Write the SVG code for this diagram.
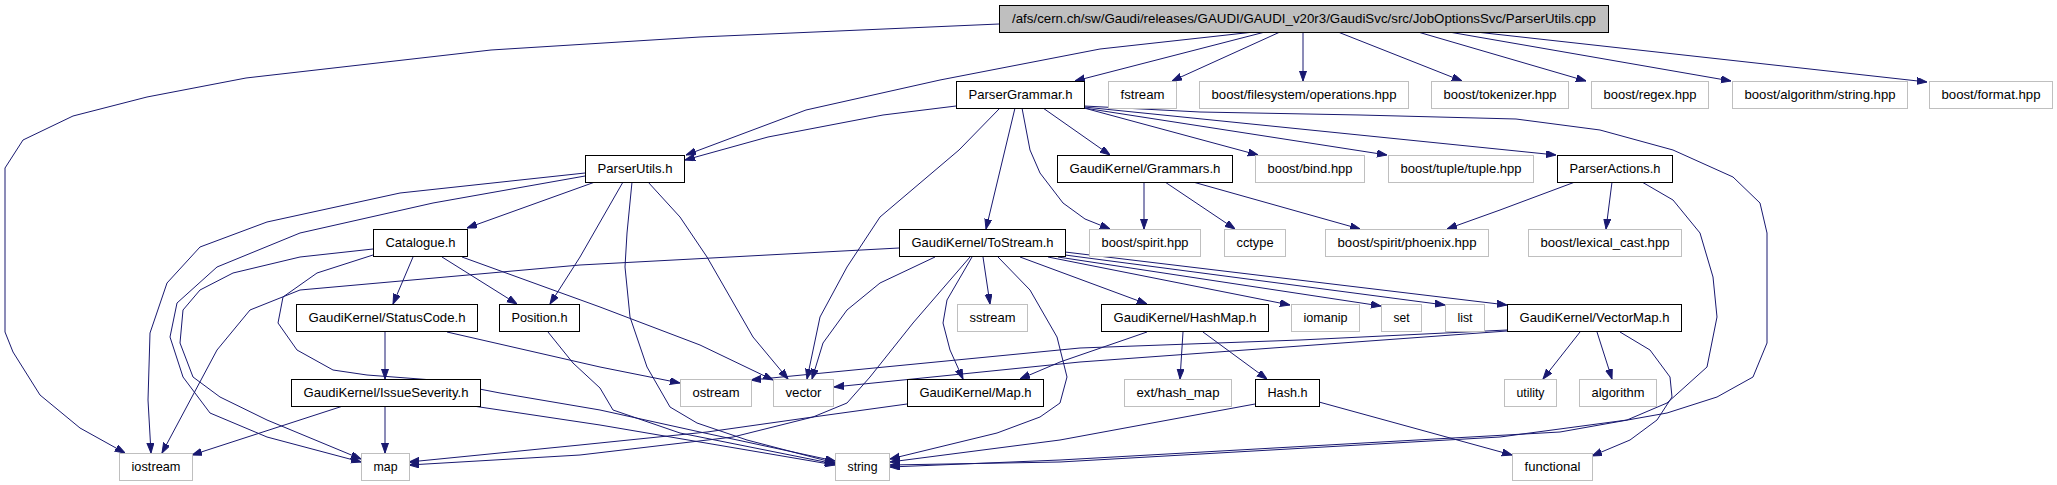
<svg xmlns="http://www.w3.org/2000/svg" width="2057" height="485" viewBox="0 0 2057 485">
<style>
rect{stroke-width:1;fill:#ffffff}
.n rect{stroke:#000000}
.g rect{stroke:#bfbfbf}
.r rect{stroke:#000000;fill:#bfbfbf}
text{font-family:"Liberation Sans",Arial,sans-serif;font-size:13px;fill:#000000;text-anchor:middle}
#edges path{fill:none;stroke:#191970;stroke-width:1;stroke-linejoin:round;marker-end:url(#a)}
</style>
<defs>
<marker id="a" markerUnits="userSpaceOnUse" markerWidth="10" markerHeight="8" refX="10" refY="3.5" orient="auto"><path d="M0,0 L10,3.5 L0,7 z" fill="#191970" stroke="#191970" stroke-width="1"/></marker>
</defs>
<rect x="0" y="0" width="2057" height="485" style="fill:#ffffff;stroke:none"/>
<g id="edges">
<path d="M999,24 L700,37 L491,50 L246,78 L147,97 L73,116 L23,140 L5,168 L5,332 L13,352 L40,395 L80,428 L125,453"/>
<path d="M1254,32 L1100,49 L940,80 L806,110 L686,155"/>
<path d="M1265,32 L1075,81"/>
<path d="M1280,32 L1172,81"/>
<path d="M1303,32 L1303,81"/>
<path d="M1338,32 L1462,81"/>
<path d="M1418,32 L1586,81"/>
<path d="M1449,32 L1731,81"/>
<path d="M1476,32 L1927,82"/>
<path d="M956,106 L883,115 L768,137 L685,160"/>
<path d="M1000,108 L959,150 L880,217 L847,267 L820,317 L807,379"/>
<path d="M1015,108 L986,229"/>
<path d="M1022,108 L1030,150 L1040,173 L1063,203 L1085,219 L1110,229"/>
<path d="M1043,108 L1110,155"/>
<path d="M1084,108 L1258,155"/>
<path d="M1084,108 L1387,155"/>
<path d="M1084,107 L1556,155"/>
<path d="M1084,106 L1200,112 L1360,115 L1516,119 L1600,130 L1673,150 L1733,177 L1760,203 L1767,233 L1767,343 L1753,377 L1717,397 L1667,413 L1560,432 L1060,460 L890,467"/>
<path d="M1144,182 L1144,229"/>
<path d="M1165,182 L1235,229"/>
<path d="M1193,182 L1360,229"/>
<path d="M1575,182 L1500,210 L1447,229"/>
<path d="M1612,182 L1606,229"/>
<path d="M1642,182 L1673,200 L1700,233 L1713,277 L1717,317 L1707,367 L1667,403 L1627,420 L1500,437 L1060,462 L890,465"/>
<path d="M585,173 L400,193 L267,222 L200,247 L167,283 L150,333 L148,400 L151,453"/>
<path d="M585,176 L433,203 L300,233 L217,267 L177,303 L170,337 L183,377 L210,413 L267,437 L361,462"/>
<path d="M595,182 L467,228"/>
<path d="M623,182 L580,257 L550,304"/>
<path d="M632,182 L627,233 L625,267 L630,317 L647,367 L670,407 L697,423 L747,440 L835,463"/>
<path d="M648,182 L680,217 L707,257 L730,297 L753,337 L788,379"/>
<path d="M373,249 L300,257 L233,273 L200,290 L183,310 L180,343 L193,377 L220,397 L267,420 L361,459"/>
<path d="M373,255 L317,273 L283,297 L278,323 L297,350 L333,370 L367,375 L433,380 L500,393 L600,410 L700,432 L835,461"/>
<path d="M413,257 L393,304"/>
<path d="M442,257 L517,304"/>
<path d="M462,257 L600,307 L700,345 L773,380"/>
<path d="M385,332 L385,379"/>
<path d="M447,332 L600,367 L680,383"/>
<path d="M548,332 L573,363 L600,388 L613,410 L680,433 L835,464"/>
<path d="M343,406 L192,455"/>
<path d="M385,406 L385,453"/>
<path d="M473,406 L600,425 L835,465"/>
<path d="M899,248 L580,265 L300,290 L250,310 L217,350 L162,453"/>
<path d="M935,257 L880,283 L847,310 L823,343 L812,379"/>
<path d="M970,257 L913,323 L870,377 L847,403 L813,417 L733,437 L580,455 L409,465"/>
<path d="M972,257 L947,300 L943,323 L950,350 L963,379"/>
<path d="M983,257 L990,304"/>
<path d="M998,257 L1030,290 L1057,337 L1067,377 L1060,403 L1040,417 L997,433 L890,459"/>
<path d="M1020,257 L1147,304"/>
<path d="M1048,257 L1290,305"/>
<path d="M1058,257 L1381,306"/>
<path d="M1065,255 L1445,305"/>
<path d="M1065,252 L1507,305"/>
<path d="M1147,332 L1060,362 L1020,379"/>
<path d="M1183,332 L1180,379"/>
<path d="M1203,332 L1267,379"/>
<path d="M1255,404 L1060,440 L890,462"/>
<path d="M1319,402 L1512,455"/>
<path d="M907,404 L813,417 L707,432 L580,445 L409,462"/>
<path d="M1507,330 L1300,340 L1080,348 L751,380"/>
<path d="M1507,331 L1080,362 L834,387"/>
<path d="M1580,332 L1543,379"/>
<path d="M1597,332 L1612,379"/>
<path d="M1620,332 L1650,350 L1670,377 L1672,397 L1657,420 L1630,440 L1592,456"/>
</g>
<g id="root" class="r"><rect x="999.5" y="5.5" width="609" height="27"/><text x="1304" y="23" textLength="584" lengthAdjust="spacingAndGlyphs">/afs/cern.ch/sw/Gaudi/releases/GAUDI/GAUDI_v20r3/GaudiSvc/src/JobOptionsSvc/ParserUtils.cpp</text></g>
<g id="ParserGrammar" class="n"><rect x="956.5" y="81.5" width="128" height="27"/><text x="1020.5" y="99" textLength="104" lengthAdjust="spacingAndGlyphs">ParserGrammar.h</text></g>
<g id="fstream" class="g"><rect x="1108.5" y="81.5" width="68" height="27"/><text x="1142.5" y="99" textLength="44" lengthAdjust="spacingAndGlyphs">fstream</text></g>
<g id="filesystem" class="g"><rect x="1199.5" y="81.5" width="209" height="27"/><text x="1304" y="99" textLength="185" lengthAdjust="spacingAndGlyphs">boost/filesystem/operations.hpp</text></g>
<g id="tokenizer" class="g"><rect x="1431.5" y="81.5" width="137" height="27"/><text x="1500" y="99" textLength="113" lengthAdjust="spacingAndGlyphs">boost/tokenizer.hpp</text></g>
<g id="regex" class="g"><rect x="1591.5" y="81.5" width="117" height="27"/><text x="1650" y="99" textLength="93" lengthAdjust="spacingAndGlyphs">boost/regex.hpp</text></g>
<g id="algstring" class="g"><rect x="1732.5" y="81.5" width="175" height="27"/><text x="1820" y="99" textLength="151" lengthAdjust="spacingAndGlyphs">boost/algorithm/string.hpp</text></g>
<g id="format" class="g"><rect x="1929.5" y="81.5" width="123" height="27"/><text x="1991" y="99" textLength="99" lengthAdjust="spacingAndGlyphs">boost/format.hpp</text></g>
<g id="ParserUtils" class="n"><rect x="585.5" y="155.5" width="99" height="27"/><text x="635" y="173" textLength="75" lengthAdjust="spacingAndGlyphs">ParserUtils.h</text></g>
<g id="Grammars" class="n"><rect x="1057.5" y="155.5" width="175" height="27"/><text x="1145" y="173" textLength="151" lengthAdjust="spacingAndGlyphs">GaudiKernel/Grammars.h</text></g>
<g id="bind" class="g"><rect x="1255.5" y="155.5" width="109" height="27"/><text x="1310" y="173" textLength="85" lengthAdjust="spacingAndGlyphs">boost/bind.hpp</text></g>
<g id="tuple" class="g"><rect x="1388.5" y="155.5" width="145" height="27"/><text x="1461" y="173" textLength="121" lengthAdjust="spacingAndGlyphs">boost/tuple/tuple.hpp</text></g>
<g id="ParserActions" class="n"><rect x="1557.5" y="155.5" width="115" height="27"/><text x="1615" y="173" textLength="91" lengthAdjust="spacingAndGlyphs">ParserActions.h</text></g>
<g id="Catalogue" class="n"><rect x="373.5" y="229.5" width="94" height="27"/><text x="420.5" y="247" textLength="70" lengthAdjust="spacingAndGlyphs">Catalogue.h</text></g>
<g id="ToStream" class="n"><rect x="899.5" y="229.5" width="166" height="27"/><text x="982.5" y="247" textLength="142" lengthAdjust="spacingAndGlyphs">GaudiKernel/ToStream.h</text></g>
<g id="spirit" class="g"><rect x="1089.5" y="229.5" width="111" height="27"/><text x="1145" y="247" textLength="87" lengthAdjust="spacingAndGlyphs">boost/spirit.hpp</text></g>
<g id="cctype" class="g"><rect x="1224.5" y="229.5" width="61" height="27"/><text x="1255" y="247" textLength="37" lengthAdjust="spacingAndGlyphs">cctype</text></g>
<g id="phoenix" class="g"><rect x="1325.5" y="229.5" width="163" height="27"/><text x="1407" y="247" textLength="139" lengthAdjust="spacingAndGlyphs">boost/spirit/phoenix.hpp</text></g>
<g id="lexical" class="g"><rect x="1528.5" y="229.5" width="153" height="27"/><text x="1605" y="247" textLength="129" lengthAdjust="spacingAndGlyphs">boost/lexical_cast.hpp</text></g>
<g id="StatusCode" class="n"><rect x="296.5" y="304.5" width="181" height="27"/><text x="387" y="322" textLength="157" lengthAdjust="spacingAndGlyphs">GaudiKernel/StatusCode.h</text></g>
<g id="Position" class="n"><rect x="499.5" y="304.5" width="80" height="27"/><text x="539.5" y="322" textLength="56" lengthAdjust="spacingAndGlyphs">Position.h</text></g>
<g id="sstream" class="g"><rect x="957.5" y="304.5" width="70" height="27"/><text x="992.5" y="322" textLength="46" lengthAdjust="spacingAndGlyphs">sstream</text></g>
<g id="HashMap" class="n"><rect x="1101.5" y="304.5" width="167" height="27"/><text x="1185" y="322" textLength="143" lengthAdjust="spacingAndGlyphs">GaudiKernel/HashMap.h</text></g>
<g id="iomanip" class="g"><rect x="1291.5" y="304.5" width="68" height="27"/><text x="1325.5" y="322" textLength="44" lengthAdjust="spacingAndGlyphs">iomanip</text></g>
<g id="set" class="g"><rect x="1381.5" y="304.5" width="40" height="27"/><text x="1401.5" y="322" textLength="16" lengthAdjust="spacingAndGlyphs">set</text></g>
<g id="list" class="g"><rect x="1445.5" y="304.5" width="39" height="27"/><text x="1465" y="322" textLength="15" lengthAdjust="spacingAndGlyphs">list</text></g>
<g id="VectorMap" class="n"><rect x="1507.5" y="304.5" width="174" height="27"/><text x="1594.5" y="322" textLength="150" lengthAdjust="spacingAndGlyphs">GaudiKernel/VectorMap.h</text></g>
<g id="IssueSeverity" class="n"><rect x="291.5" y="379.5" width="189" height="27"/><text x="386" y="397" textLength="165" lengthAdjust="spacingAndGlyphs">GaudiKernel/IssueSeverity.h</text></g>
<g id="ostream" class="g"><rect x="680.5" y="379.5" width="71" height="27"/><text x="716" y="397" textLength="47" lengthAdjust="spacingAndGlyphs">ostream</text></g>
<g id="vector" class="g"><rect x="773.5" y="379.5" width="60" height="27"/><text x="803.5" y="397" textLength="36" lengthAdjust="spacingAndGlyphs">vector</text></g>
<g id="Map" class="n"><rect x="907.5" y="379.5" width="136" height="27"/><text x="975.5" y="397" textLength="112" lengthAdjust="spacingAndGlyphs">GaudiKernel/Map.h</text></g>
<g id="hash_map" class="g"><rect x="1124.5" y="379.5" width="107" height="27"/><text x="1178" y="397" textLength="83" lengthAdjust="spacingAndGlyphs">ext/hash_map</text></g>
<g id="Hash" class="n"><rect x="1255.5" y="379.5" width="64" height="27"/><text x="1287.5" y="397" textLength="40" lengthAdjust="spacingAndGlyphs">Hash.h</text></g>
<g id="utility" class="g"><rect x="1504.5" y="379.5" width="52" height="27"/><text x="1530.5" y="397" textLength="28" lengthAdjust="spacingAndGlyphs">utility</text></g>
<g id="algorithm" class="g"><rect x="1579.5" y="379.5" width="77" height="27"/><text x="1618" y="397" textLength="53" lengthAdjust="spacingAndGlyphs">algorithm</text></g>
<g id="iostream" class="g"><rect x="119.5" y="453.5" width="73" height="27"/><text x="156" y="471" textLength="49" lengthAdjust="spacingAndGlyphs">iostream</text></g>
<g id="map" class="g"><rect x="361.5" y="453.5" width="48" height="27"/><text x="385.5" y="471" textLength="24" lengthAdjust="spacingAndGlyphs">map</text></g>
<g id="string" class="g"><rect x="835.5" y="453.5" width="54" height="27"/><text x="862.5" y="471" textLength="30" lengthAdjust="spacingAndGlyphs">string</text></g>
<g id="functional" class="g"><rect x="1512.5" y="453.5" width="80" height="27"/><text x="1552.5" y="471" textLength="56" lengthAdjust="spacingAndGlyphs">functional</text></g>
</svg>
